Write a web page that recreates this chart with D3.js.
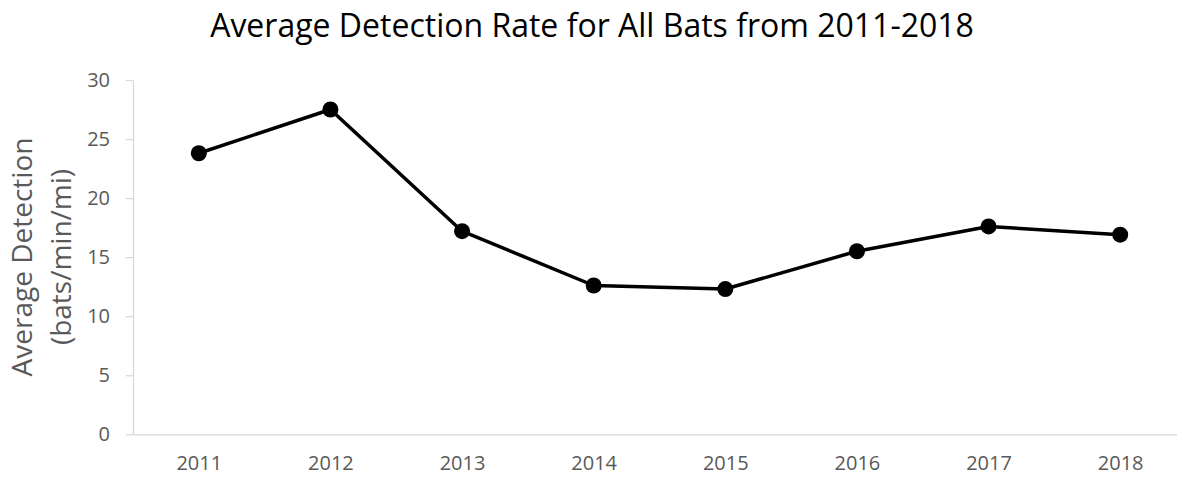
<!DOCTYPE html>
<html>
<head>
<meta charset="utf-8">
<script src="https://cdn.jsdelivr.net/npm/d3@7"></script>
<style>
  html, body { margin: 0; padding: 0; background: #fff; }
  svg { display: block; }
  text { font-family: "Open Sans", sans-serif; }
</style>
</head>
<body>
<svg id="chart" width="1177" height="477"></svg>
<script>
const years = ["2011", "2012", "2013", "2014", "2015", "2016", "2017", "2018"];
const detectionRates = [23.8, 27.5, 17.2, 12.6, 12.3, 15.5, 17.6, 16.9];
const yTicks = [0, 5, 10, 15, 20, 25, 30];
const titleText = "Average Detection Rate for All Bats from 2011-2018";
const yTitleLines = ["Average Detection", "(bats/min/mi)"];

const svg = d3.select("#chart");
const plot = { left: 133, right: 1186, top: 80, bottom: 434.3 };

const x = d3.scalePoint().domain(years).range([plot.left, plot.right]).padding(0.5);
const y = d3.scaleLinear().domain([0, 30]).range([plot.bottom, plot.top]);

// Title
svg.append("text")
  .attr("x", 592).attr("y", 37)
  .attr("text-anchor", "middle")
  .attr("font-size", 32)
  .attr("fill", "#000")
  .text(titleText);

// Y axis title (two lines, rotated)
const yt = svg.append("text")
  .attr("transform", "translate(0,257) rotate(-90)")
  .attr("text-anchor", "middle")
  .attr("font-size", 28)
  .attr("fill", "#595959");
yt.append("tspan").attr("x", 0).attr("y", 32).text(yTitleLines[0]);
yt.append("tspan").attr("x", 0).attr("y", 71).text(yTitleLines[1]);

// Y axis
const yAxis = d3.axisLeft(y).tickValues(yTicks).tickSize(7).tickPadding(16).tickSizeOuter(0);
const gy = svg.append("g").attr("transform", `translate(${plot.left},0)`).call(yAxis);
gy.select(".domain").attr("stroke", "#d9d9d9").attr("stroke-width", 1.3);
gy.selectAll(".tick line").attr("stroke", "#d9d9d9").attr("stroke-width", 1.3);
gy.selectAll(".tick text").attr("font-family", "Open Sans, sans-serif").attr("font-size", 20).attr("fill", "#595959");

// X axis
const xAxis = d3.axisBottom(x).tickSize(0).tickPadding(22).tickSizeOuter(0);
const gx = svg.append("g").attr("transform", `translate(0,${plot.bottom})`).call(xAxis);
gx.select(".domain").attr("stroke", "#d9d9d9").attr("stroke-width", 1.3);
gx.selectAll(".tick text").attr("font-family", "Open Sans, sans-serif").attr("font-size", 20).attr("fill", "#595959");

// Line
const data = years.map((yr, i) => ({ yr, v: detectionRates[i] }));
svg.append("path")
  .datum(data)
  .attr("fill", "none")
  .attr("stroke", "#000")
  .attr("stroke-width", 3.5)
  .attr("stroke-linejoin", "round")
  .attr("d", d3.line().x(d => x(d.yr)).y(d => y(d.v)));

svg.selectAll("circle.pt")
  .data(data)
  .join("circle")
  .attr("class", "pt")
  .attr("cx", d => x(d.yr))
  .attr("cy", d => y(d.v))
  .attr("r", 8)
  .attr("fill", "#000");
</script>
</body>
</html>
